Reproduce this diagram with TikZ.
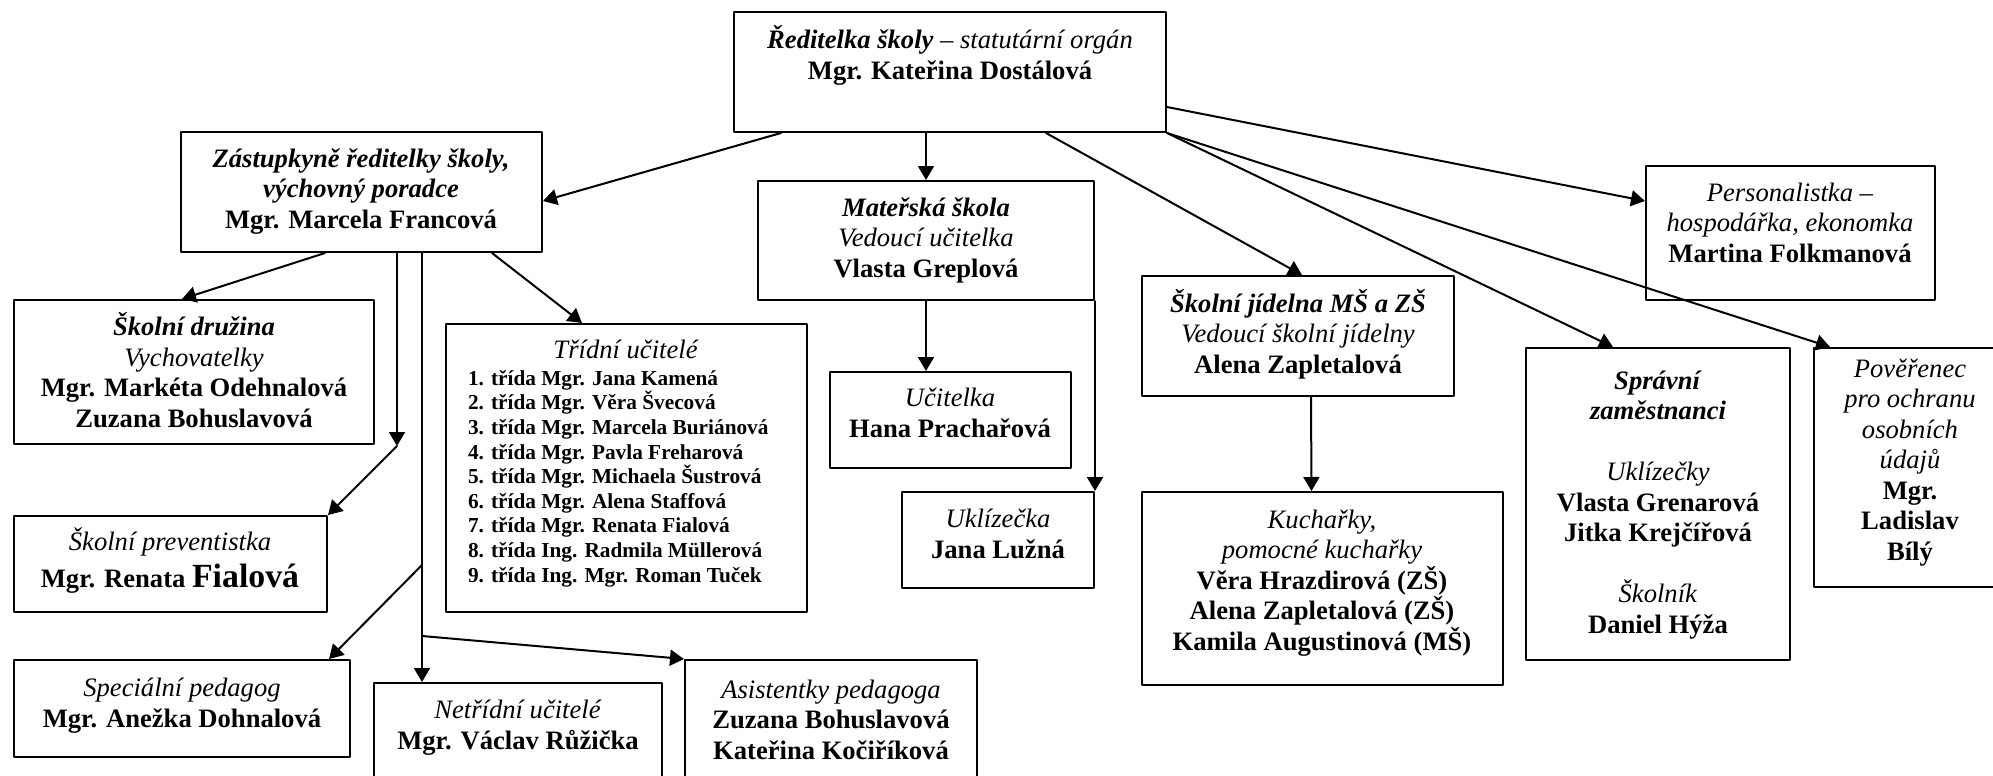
\documentclass[tikz,border=0pt]{standalone}
\usepackage{fontspec}
\setmainfont{Liberation Serif}
\usetikzlibrary{arrows.meta}
\usetikzlibrary{calc}
\usetikzlibrary{fit}

\tikzset{
  box/.style={draw,line width=1pt,inner sep=0pt},
  txt/.style={anchor=base,align=center,inner sep=0pt,font=\fontsize{13.3}{15.25}\selectfont},
  lst/.style={anchor=base west,align=left,inner sep=0pt,font=\fontsize{10.65}{12.3}\selectfont\bfseries}
}

\begin{document}
\begin{tikzpicture}[line cap=round,line join=round,>={Triangle[length=7pt,width=8pt]},x=0.5pt,y=-0.5pt,line width=1pt]
\useasboundingbox (0,0) rectangle (1993,776);
\clip (0,0) rectangle (1993,776);
\node[box,fit={(734,12) (1166,132)}] (dir) {};
\node[box,fit={(181,132) (542,252)}] (zast) {};
\node[box,fit={(758,181) (1094,300)}] (ms) {};
\node[box,fit={(1646,166) (1935,300)}] (pers) {};
\node[box,fit={(14,300) (374,444)}] (druz) {};
\node[box,fit={(446,324) (807,612)}] (trid) {};
\node[box,fit={(14,516) (327,612)}] (prev) {};
\node[box,fit={(14,660) (350,757)}] (sped) {};
\node[box,fit={(374,683) (662,800)}] (net) {};
\node[box,fit={(685,660) (977,800)}] (asis) {};
\node[box,fit={(830,372) (1071,468)}] (uc) {};
\node[box,fit={(902,492) (1094,588)}] (ukl) {};
\node[box,fit={(1142,276) (1454,396)}] (jid) {};
\node[box,fit={(1142,492) (1503,685)}] (kuch) {};
\node[box,fit={(1526,348) (1790,660)}] (spr) {};
\node[box,fit={(1814,348) (2006,587)}] (pov) {};

\node[txt] (dir-t) at (950,79) {\textbf{\textit{Ředitelka školy}} \textit{– statutární orgán}\\\textbf{Mgr. Kateřina Dostálová}};
\node[txt] (zast-t) at (361,228) {\textbf{\textit{Zástupkyně ředitelky školy,}}\\\textbf{\textit{výchovný poradce}}\\\textbf{Mgr. Marcela Francová}};
\node[txt] (ms-t) at (926,277) {\textbf{\textit{Mateřská škola}}\\\textit{Vedoucí učitelka}\\\textbf{Vlasta Greplová}};
\node[txt] (pers-t) at (1790,262) {\textit{Personalistka –}\\\textit{hospodářka, ekonomka}\\\textbf{Martina Folkmanová}};
\node[txt] (druz-t) at (194,427) {\textbf{\textit{Školní družina}}\\\textit{Vychovatelky}\\\textbf{Mgr. Markéta Odehnalová}\\\textbf{Zuzana Bohuslavová}};
\node[txt] (trid-t) at (626,358) {\textit{Třídní učitelé}};
\node[lst] (trid-l) at (467,582) {1. třída Mgr. Jana Kamená\\2. třída Mgr. Věra Švecová\\3. třída Mgr. Marcela Buriánová\\4. třída Mgr. Pavla Freharová\\5. třída Mgr. Michaela Šustrová\\6. třída Mgr. Alena Staffová\\7. třída Mgr. Renata Fialová\\8. třída Ing. Radmila Müllerová\\9. třída Ing. Mgr. Roman Tuček};
\node[txt] (prev-t) at (170,587) {\textit{Školní preventistka}\\[3pt]\textbf{Mgr. Renata {\fontsize{16.9}{18}\selectfont Fialová}}};
\node[txt] (sped-t) at (182,727) {\textit{Speciální pedagog}\\\textbf{Mgr. Anežka Dohnalová}};
\node[txt] (net-t) at (518,749) {\textit{Netřídní učitelé}\\\textbf{Mgr. Václav Růžička}};
\node[txt] (asis-t) at (831,759) {\textit{Asistentky pedagoga}\\\textbf{Zuzana Bohuslavová}\\\textbf{Kateřina Kočiříková}};
\node[txt] (uc-t) at (950,437) {\textit{Učitelka}\\\textbf{Hana Prachařová}};
\node[txt] (ukl-t) at (998,558) {\textit{Uklízečka}\\\textbf{Jana Lužná}};
\node[txt] (jid-t) at (1298,373) {\textbf{\textit{Školní jídelna MŠ a ZŠ}}\\\textit{Vedoucí školní jídelny}\\\textbf{Alena Zapletalová}};
\node[txt] (kuch-t) at (1322,650) {\textit{Kuchařky,}\\\textit{pomocné kuchařky}\\\textbf{Věra Hrazdirová (ZŠ)}\\\textbf{Alena Zapletalová (ZŠ)}\\\textbf{Kamila Augustinová (MŠ)}};
\node[txt] (spr-t) at (1658,633) {\textbf{\textit{Správní}}\\\textbf{\textit{zaměstnanci}}\\[15.25pt]\textit{Uklízečky}\\\textbf{Vlasta Grenarová}\\\textbf{Jitka Krejčířová}\\[15.25pt]\textit{Školník}\\\textbf{Daniel Hýža}};
\node[txt] (pov-t) at (1910,560) {\textit{Pověřenec}\\\textit{pro ochranu}\\\textit{osobních}\\\textit{údajů}\\\textbf{Mgr.}\\\textbf{Ladislav}\\\textbf{Bílý}};

\coordinate (k1) at (397,446);
\coordinate (k2) at (422,565);
\coordinate (k3) at (422,636);
\draw[->] ($(dir.south west)+(48,0)$) -- ($(zast.north east)+(0,70)$);
\draw[->] (dir.south -| ms.north) -- (ms.north);
\draw[->] ($(dir.south west)+(313,0)$) -- ($(jid.north west)+(161,0)$);
\draw[->] ($(dir.north east)+(0,96)$) -- ($(pers.north west)+(0,36)$);
\draw[->] (dir.south east) -- ($(spr.north west)+(88,0)$);
\draw[->] (dir.south east) -- ($(pov.north west)+(17,0)$);
\draw[->] ($(zast.south west)+(145,0)$) -- ($(druz.north west)+(169,0)$);
\draw[->] ($(zast.south west)+(312,0)$) -- ($(trid.north west)+(137,0)$);
\draw[->] (zast.south -| k1) -- (k1);
\draw[->] (k1) -- (prev.north east);
\draw[->] (zast.south -| k2) -- (net.north -| k2);
\draw[->] (k2) -- ($(sped.north east)+(-22,0)$);
\draw[->] (k3) -- (asis.north west);
\draw[->] (ms.south) -- (ms.south |- uc.north);
\draw[->] (ms.south east) -- (ukl.north east);
\draw[->] ($(jid.south)+(13,0)$) -- ($(kuch.north)+(-11,0)$);
\end{tikzpicture}
\end{document}
